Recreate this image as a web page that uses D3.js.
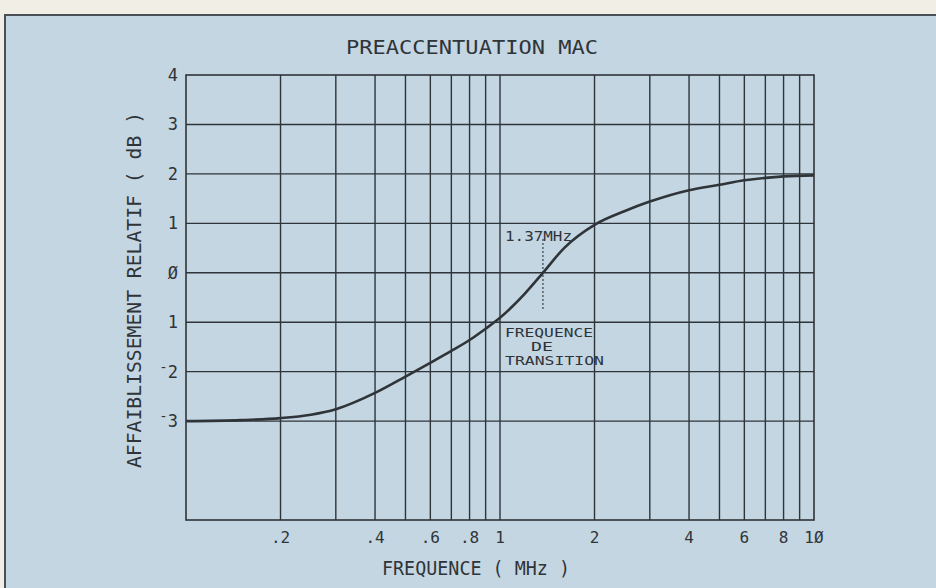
<!DOCTYPE html>
<html>
<head>
<meta charset="utf-8">
<script src="https://cdn.jsdelivr.net/npm/d3@7"></script>
<style>
  html, body { margin: 0; padding: 0; background: #f1eee6; }
  svg { display: block; }
  text { font-family: "DejaVu Sans Mono", "Liberation Mono", monospace; fill: #2f3439; }
</style>
</head>
<body>
<svg id="chart" width="936" height="588"></svg>
<script>
// Frequency response of the MAC pre-emphasis network
const freqMHz = [0.1, 0.15, 0.2, 0.25, 0.3, 0.4, 0.5, 0.6, 0.7, 0.8, 0.9, 1.0, 1.2, 1.37, 1.6, 2.0, 2.5, 3.0, 4.0, 5.0, 6.0, 7.0, 8.0, 10.0];
const attenuationDb = [-3.0, -2.98, -2.94, -2.87, -2.76, -2.43, -2.1, -1.82, -1.58, -1.36, -1.13, -0.91, -0.42, 0.0, 0.5, 0.97, 1.25, 1.44, 1.67, 1.78, 1.87, 1.92, 1.95, 1.97];

const xGrid = [0.2, 0.3, 0.4, 0.5, 0.6, 0.7, 0.8, 0.9, 1, 2, 3, 4, 5, 6, 7, 8, 9];
const xTicks = [0.2, 0.4, 0.6, 0.8, 1, 2, 4, 6, 8, 10];
const xTickLabels = [".2", ".4", ".6", ".8", "1", "2", "4", "6", "8", "1Ø"];
const yGrid = [3, 2, 1, 0, -1, -2, -3];
const yTicks = [4, 3, 2, 1, 0, -1, -2, -3];
const yTickLabels = ["4", "3", "2", "1", "Ø", "1", "-2", "-3"];

const transitionFreq = 1.37;
const transitionLabel = "1.37MHz";
const transitionText = ["FREQUENCE", "DE", "TRANSITION"];

const ink = "#2f3439";
const svg = d3.select("#chart");

// Panel
svg.append("rect").attr("x", 5).attr("y", 15).attr("width", 931).attr("height", 573).attr("fill", "#c4d6e2");
svg.append("path").attr("d", "M5,588V15H936").attr("fill", "none").attr("stroke", "#4a4f55").attr("stroke-width", 2);

const x = d3.scaleLog().domain([0.1, 10]).range([186, 814]);
const y = d3.scaleLinear().domain([-5, 4]).range([520, 75]);

const g = svg.append("g");

// Grid
g.selectAll("line.vg").data(xGrid).join("line")
  .attr("x1", d => x(d)).attr("x2", d => x(d)).attr("y1", y(4)).attr("y2", y(-5))
  .attr("stroke", ink).attr("stroke-width", 1.4);
g.selectAll("line.hg").data(yGrid).join("line")
  .attr("y1", d => y(d)).attr("y2", d => y(d)).attr("x1", x(0.1)).attr("x2", x(10))
  .attr("stroke", ink).attr("stroke-width", 1.4);
g.append("rect").attr("x", x(0.1)).attr("y", y(4)).attr("width", x(10) - x(0.1)).attr("height", y(-5) - y(4))
  .attr("fill", "none").attr("stroke", ink).attr("stroke-width", 1.6);

// X tick labels
g.selectAll("text.xt").data(xTicks).join("text")
  .attr("x", d => x(d)).attr("y", 543).attr("text-anchor", "middle")
  .attr("font-size", 16)
  .text((d, i) => xTickLabels[i]);

// Y tick labels (minus sign drawn raised)
const yt = g.selectAll("text.yt").data(yTicks).join("text")
  .attr("x", 178).attr("y", d => y(d) + 6).attr("text-anchor", "end")
  .attr("font-size", 17);
yt.each(function (d, i) {
  const s = yTickLabels[i];
  const t = d3.select(this);
  if (s.startsWith("-")) {
    t.append("tspan").attr("dy", -6).attr("font-size", 14).text("-");
    t.append("tspan").attr("dy", 6).text(s.slice(1));
  } else {
    t.text(s);
  }
});

// Titles
svg.append("text").attr("x", 472).attr("y", 54).attr("text-anchor", "middle")
  .attr("font-size", 19).attr("textLength", 252).attr("lengthAdjust", "spacingAndGlyphs")
  .text("PREACCENTUATION MAC");
svg.append("text").attr("x", 476).attr("y", 575).attr("text-anchor", "middle")
  .attr("font-size", 20).attr("textLength", 188).attr("lengthAdjust", "spacingAndGlyphs")
  .text("FREQUENCE ( MHz )");
svg.append("text").attr("transform", "translate(141,290) rotate(-90)").attr("text-anchor", "middle")
  .attr("font-size", 20).attr("textLength", 356).attr("lengthAdjust", "spacingAndGlyphs")
  .text("AFFAIBLISSEMENT RELATIF ( dB )");

// Response curve
const line = d3.line().x(d => x(d[0])).y(d => y(d[1])).curve(d3.curveMonotoneX);
g.append("path").datum(freqMHz.map((f, i) => [f, attenuationDb[i]]))
  .attr("d", line).attr("fill", "none").attr("stroke", ink).attr("stroke-width", 2.6)
  .attr("stroke-linejoin", "round");

// Transition frequency marker
g.append("line").attr("x1", x(transitionFreq)).attr("x2", x(transitionFreq))
  .attr("y1", y(0.68)).attr("y2", y(-0.75))
  .attr("stroke", ink).attr("stroke-width", 1.5).attr("stroke-dasharray", "1.5,2.5");
g.append("text").attr("x", 505).attr("y", 241).attr("font-size", 14)
  .attr("textLength", 67).attr("lengthAdjust", "spacingAndGlyphs").text(transitionLabel);
g.append("text").attr("x", 505).attr("y", 337).attr("font-size", 12)
  .attr("textLength", 88).attr("lengthAdjust", "spacingAndGlyphs").text(transitionText[0]);
g.append("text").attr("x", 542).attr("y", 351).attr("font-size", 12).attr("text-anchor", "middle")
  .attr("textLength", 22).attr("lengthAdjust", "spacingAndGlyphs").text(transitionText[1]);
g.append("text").attr("x", 505).attr("y", 365).attr("font-size", 12)
  .attr("textLength", 99).attr("lengthAdjust", "spacingAndGlyphs").text(transitionText[2]);
</script>
</body>
</html>
